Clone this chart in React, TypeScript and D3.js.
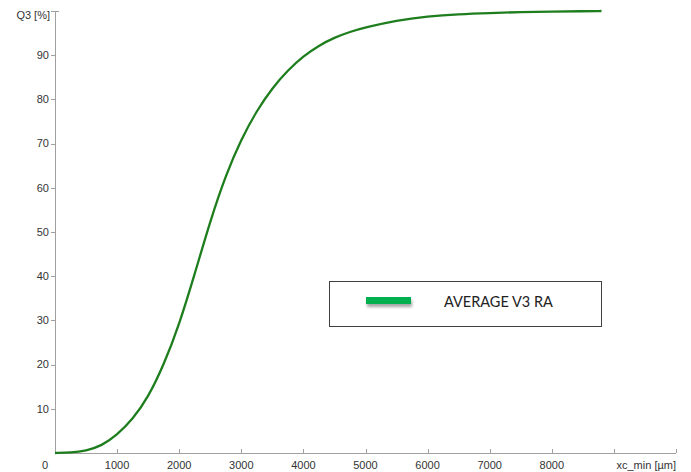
import { useRef, useEffect } from "react";
import * as d3 from "d3";

// particle size [µm] vs. cumulative Q3 [%]
const sizes = [0, 250, 500, 750, 1000, 1250, 1500, 1750, 2000, 2250, 2500, 2750, 3000, 3250, 3500, 3750, 4000, 4250, 4500, 4750, 5000, 5500, 6000, 6500, 7000, 7500, 8000, 8500, 8800];
const q3 = [0, 0.1, 0.5, 1.6, 4.1, 7.6, 12.6, 19.9, 29.0, 40.5, 52.5, 62.9, 71.0, 77.5, 82.6, 86.6, 89.8, 92.2, 94.0, 95.3, 96.3, 97.9, 98.8, 99.3, 99.55, 99.75, 99.87, 99.95, 100];

const xTicks = [0, 1000, 2000, 3000, 4000, 5000, 6000, 7000, 8000, 9000, 10000];
const yTicks = [10, 20, 30, 40, 50, 60, 70, 80, 90, 100];

const X_LABEL = "xc_min [µm]";
const Y_LABEL = "Q3 [%]";
const SERIES_NAME = "AVERAGE V3 RA";

const W = 691;
const H = 472;
const AXIS_COLOR = "#a0a0a0";
const TEXT_COLOR = "#333";
const LINE_COLOR = "#1e7e1e";
const LEGEND_GREEN = "#00b050";

export default function App() {
  const svgRef = useRef<SVGSVGElement>(null);

  useEffect(() => {
    if (!svgRef.current) return;
    const svg = d3.select(svgRef.current);
    svg.selectAll("*").remove();

    const margin = { top: 11, right: 15, bottom: 19, left: 55 };
    const x = d3.scaleLinear().domain([0, 10000]).range([margin.left, W - margin.right]);
    const y = d3.scaleLinear().domain([0, 100]).range([H - margin.bottom, margin.top]);
    const font = "'Liberation Sans', Arial, sans-serif";

    // X axis
    const xa = svg.append("g");
    xa.append("line")
      .attr("x1", x(0)).attr("x2", x(10000))
      .attr("y1", y(0) + 0.5).attr("y2", y(0) + 0.5)
      .attr("stroke", AXIS_COLOR);
    xa.selectAll("line.tick")
      .data(xTicks.slice(1))
      .join("line")
      .attr("class", "tick")
      .attr("x1", (d) => Math.round(x(d)) + 0.5).attr("x2", (d) => Math.round(x(d)) + 0.5)
      .attr("y1", y(0) - 4).attr("y2", y(0))
      .attr("stroke", AXIS_COLOR);
    xa.selectAll("text")
      .data(xTicks.slice(0, 9))
      .join("text")
      .attr("x", (d) => (d === 0 ? x(d) - 10 : x(d)))
      .attr("y", y(0) + 16)
      .attr("text-anchor", "middle")
      .style("font-family", font).style("font-size", "11px").style("fill", TEXT_COLOR)
      .text((d) => String(d));
    xa.append("text")
      .attr("x", x(10000)).attr("y", y(0) + 16)
      .attr("text-anchor", "end")
      .style("font-family", font).style("font-size", "11px").style("fill", TEXT_COLOR)
      .text(X_LABEL);

    // Y axis
    const ya = svg.append("g");
    ya.append("line")
      .attr("x1", x(0) + 0.5).attr("x2", x(0) + 0.5)
      .attr("y1", y(0)).attr("y2", y(100))
      .attr("stroke", AXIS_COLOR);
    ya.selectAll("line.tick")
      .data(yTicks)
      .join("line")
      .attr("class", "tick")
      .attr("x1", x(0) - 4).attr("x2", (d) => (d === 100 ? x(0) + 4 : x(0)))
      .attr("y1", (d) => Math.round(y(d)) + 0.5).attr("y2", (d) => Math.round(y(d)) + 0.5)
      .attr("stroke", AXIS_COLOR);
    ya.selectAll("text")
      .data(yTicks.slice(0, 9))
      .join("text")
      .attr("x", x(0) - 6)
      .attr("y", (d) => y(d))
      .attr("dy", "0.35em")
      .attr("text-anchor", "end")
      .style("font-family", font).style("font-size", "11px").style("fill", TEXT_COLOR)
      .text((d) => String(d));
    ya.append("text")
      .attr("x", x(0) - 5).attr("y", y(100) + 4)
      .attr("dy", "0.35em")
      .attr("text-anchor", "end")
      .style("font-family", font).style("font-size", "11px").style("fill", TEXT_COLOR)
      .text(Y_LABEL);

    // Curve
    const pts = sizes.map((s, i) => [s, q3[i]] as [number, number]);
    const line = d3.line<[number, number]>()
      .x((d) => x(d[0]))
      .y((d) => y(d[1]))
      .curve(d3.curveBasis);
    svg.append("path")
      .datum(pts)
      .attr("d", line)
      .attr("fill", "none")
      .attr("stroke", LINE_COLOR)
      .attr("stroke-width", 2.3)
      .attr("stroke-linejoin", "round");

    // Legend
    const defs = svg.append("defs");
    const f = defs.append("filter").attr("id", "shadow").attr("x", "-20%").attr("y", "-50%").attr("width", "140%").attr("height", "250%");
    f.append("feDropShadow").attr("dx", 1).attr("dy", 3).attr("stdDeviation", 1.5).attr("flood-color", "#000").attr("flood-opacity", 0.35);

    const lg = svg.append("g").attr("transform", "translate(329.5,281.5)");
    lg.append("rect")
      .attr("width", 272).attr("height", 45)
      .attr("fill", "#fff").attr("stroke", "#404040").attr("stroke-width", 1);
    lg.append("rect")
      .attr("x", 36.5).attr("y", 15.5).attr("width", 45).attr("height", 7)
      .attr("fill", LEGEND_GREEN)
      .attr("filter", "url(#shadow)");
    lg.append("text")
      .attr("x", 114.5).attr("y", 20.5)
      .attr("dy", "0.35em")
      .style("font-family", "Lato, 'Open Sans', sans-serif")
      .style("font-size", "14.5px")
      .style("fill", "#222")
      .text(SERIES_NAME);
  }, []);

  return (
    <svg
      ref={svgRef}
      width={W}
      height={H}
      style={{ position: "absolute", left: 0, top: 0, background: "#fff", display: "block" }}
    />
  );
}
